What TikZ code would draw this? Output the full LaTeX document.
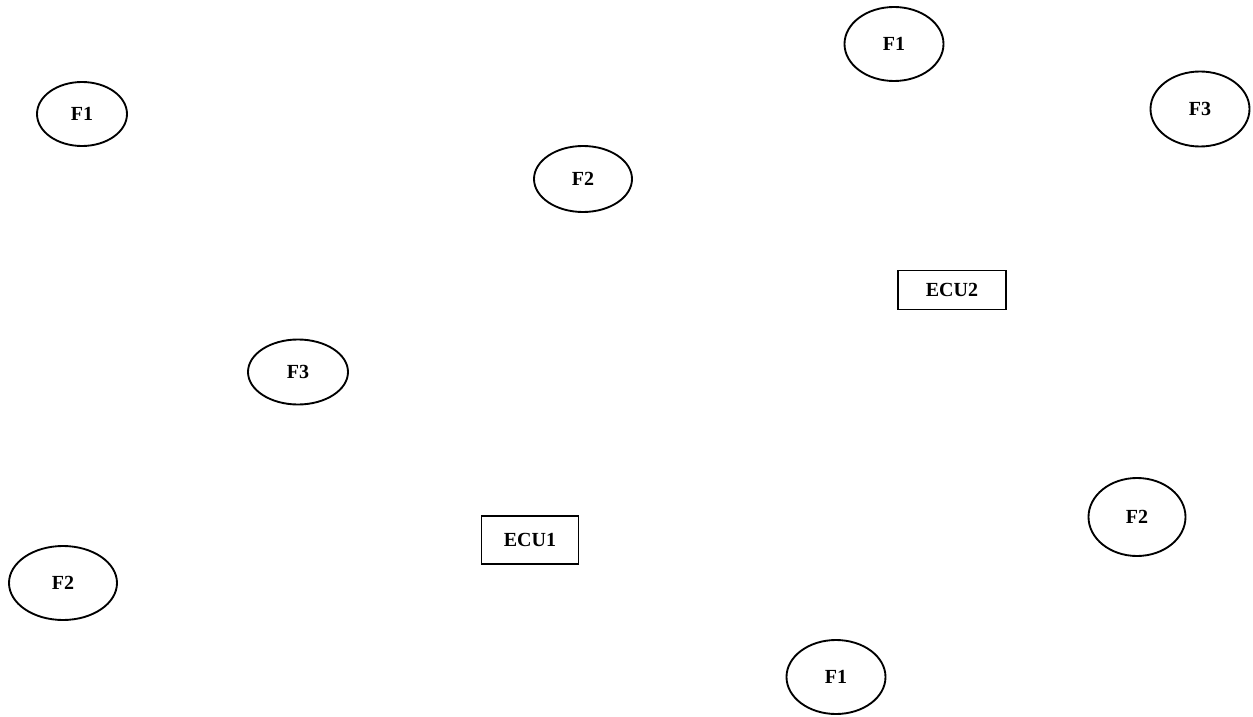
\documentclass[tikz,border=0pt]{standalone}
\usepackage{fontspec}
\setmainfont{Liberation Serif}
\usetikzlibrary{shapes.geometric}
\tikzset{
  fn/.style={ellipse, draw, line width=1.4pt, inner sep=0pt, font=\fontsize{15}{18}\selectfont\bfseries},
  ecu/.style={rectangle, draw, line width=1.4pt, inner sep=0pt, font=\fontsize{15}{18}\selectfont\bfseries},
}
\begin{document}
\begin{tikzpicture}[x=0.75pt,y=-0.75pt]
\useasboundingbox (0,0) rectangle (1253,717);
\node[fn, minimum width={90*0.75pt}, minimum height={64*0.75pt}] (f1a) at (82,114) {F1};
\node[fn, minimum width={98*0.75pt}, minimum height={66*0.75pt}] (f2a) at (583,179) {F2};
\node[fn, minimum width={100*0.75pt}, minimum height={65*0.75pt}] (f3a) at (298,372) {F3};
\node[fn, minimum width={108*0.75pt}, minimum height={74*0.75pt}] (f2b) at (63,583) {F2};
\node[ecu, minimum width={97*0.75pt}, minimum height={48*0.75pt}] (ecu1) at (530,540) {ECU1};
\node[fn, minimum width={99*0.75pt}, minimum height={74*0.75pt}] (f1b) at (894,44) {F1};
\node[fn, minimum width={99*0.75pt}, minimum height={75*0.75pt}] (f3b) at (1200,109) {F3};
\node[ecu, minimum width={108*0.75pt}, minimum height={39*0.75pt}] (ecu2) at (952,290) {ECU2};
\node[fn, minimum width={97*0.75pt}, minimum height={78*0.75pt}] (f2c) at (1137,517) {F2};
\node[fn, minimum width={99*0.75pt}, minimum height={74*0.75pt}] (f1c) at (836,677) {F1};
\end{tikzpicture}
\end{document}
